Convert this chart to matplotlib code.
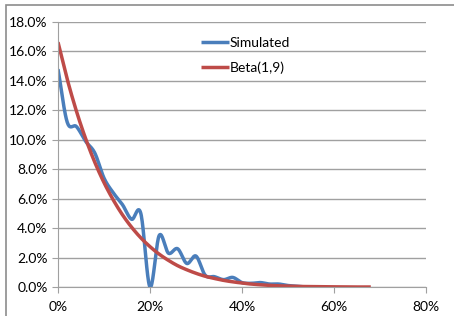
import numpy as np
import matplotlib
matplotlib.use("Agg")
from matplotlib import pyplot as plt
from matplotlib.ticker import PercentFormatter

# bin start (fraction) and values
x_sim = [0.00, 0.02, 0.04, 0.06, 0.08, 0.10, 0.12, 0.14, 0.16, 0.18,
         0.20, 0.22, 0.24, 0.26, 0.28, 0.30, 0.32, 0.34, 0.36, 0.38,
         0.40, 0.42, 0.44, 0.46, 0.48, 0.50, 0.52, 0.54]
simulated = [0.148, 0.112, 0.109, 0.099, 0.091, 0.074, 0.064, 0.056, 0.046, 0.050,
             0.000, 0.035, 0.023, 0.026, 0.016, 0.021, 0.008, 0.007, 0.005, 0.0065,
             0.003, 0.0025, 0.003, 0.002, 0.002, 0.001, 0.0005, 0.0]

x_beta = [0.00, 0.02, 0.04, 0.06, 0.08, 0.10, 0.12, 0.14, 0.16, 0.18,
          0.20, 0.22, 0.24, 0.26, 0.28, 0.30, 0.32, 0.34, 0.36, 0.38,
          0.40, 0.42, 0.44, 0.46, 0.48, 0.50, 0.52, 0.54, 0.56, 0.58,
          0.60, 0.62, 0.64, 0.66, 0.68]
beta = [0.1663, 0.1412, 0.1195, 0.1008, 0.0847, 0.0709, 0.0592, 0.0491, 0.0406, 0.0334,
        0.0274, 0.0223, 0.0181, 0.0145, 0.0117, 0.0093, 0.0073, 0.0058, 0.0045, 0.0035,
        0.0027, 0.0020, 0.0015, 0.0011, 0.0008, 0.0006, 0.0004, 0.0003, 0.0002, 0.00015,
        0.0001, 0.0001, 0.0, 0.0, 0.0]


def smooth(xs, ys, n=20):
    # Catmull-Rom style smoothing like Excel's smoothed lines
    xs = np.asarray(xs, float)
    ys = np.asarray(ys, float)
    px = np.concatenate([[2 * xs[0] - xs[1]], xs, [2 * xs[-1] - xs[-2]]])
    py = np.concatenate([[2 * ys[0] - ys[1]], ys, [2 * ys[-1] - ys[-2]]])
    ox, oy = [], []
    t = np.linspace(0, 1, n, endpoint=False)
    for i in range(1, len(px) - 2):
        for p, out in ((px, ox), (py, oy)):
            p0, p1, p2, p3 = p[i - 1], p[i], p[i + 1], p[i + 2]
            out.extend(0.5 * (2 * p1 + (-p0 + p2) * t
                              + (2 * p0 - 5 * p1 + 4 * p2 - p3) * t ** 2
                              + (-p0 + 3 * p1 - 3 * p2 + p3) * t ** 3))
    ox.append(xs[-1])
    oy.append(ys[-1])
    return np.array(ox), np.array(oy)


plt.rcParams['font.family'] = ['Lato', 'DejaVu Sans']
fig = plt.figure(figsize=(4.54, 3.16), dpi=100)
ax = fig.add_axes([58 / 454, 1 - 287 / 316, (426 - 58) / 454, (287 - 22) / 316])

sx, sy = smooth(x_sim, simulated)
bx, by = smooth(x_beta, beta)
ax.plot(sx, sy, color='#4a7ebb', lw=2.5, label='Simulated', solid_capstyle='butt')
ax.plot(bx, by, color='#be4b48', lw=2.5, label='Beta(1,9)', solid_capstyle='butt')

ax.set_xlim(0, 0.8)
ax.set_ylim(0, 0.18)
ax.set_xticks([0, 0.2, 0.4, 0.6, 0.8])
ax.set_yticks(np.arange(0, 0.181, 0.02))
ax.xaxis.set_major_formatter(PercentFormatter(1.0, decimals=0))
ax.yaxis.set_major_formatter(PercentFormatter(1.0, decimals=1))
ax.grid(axis='y', color='#a0a0a0', lw=1)
ax.set_axisbelow(True)
for s in ['top', 'right']:
    ax.spines[s].set_visible(False)
for s in ['left', 'bottom']:
    ax.spines[s].set_color('#a0a0a0')
ax.tick_params(colors='#a0a0a0', labelcolor='black', labelsize=10, length=4)
ax.tick_params(axis='x', pad=6)

ax.legend(loc='upper left', bbox_to_anchor=(0.355, 0.99), frameon=False,
          fontsize=10, handlelength=2.0, handletextpad=0.05, labelspacing=0.9)

# chart frame
fig.patches.append(plt.Rectangle((6 / 454, -0.1), 1.2, 1 - 5 / 316 + 0.1,
                                 transform=fig.transFigure, fill=False,
                                 edgecolor='#8c8c8c', lw=1.2))

fig.savefig('out.png', dpi=100)
